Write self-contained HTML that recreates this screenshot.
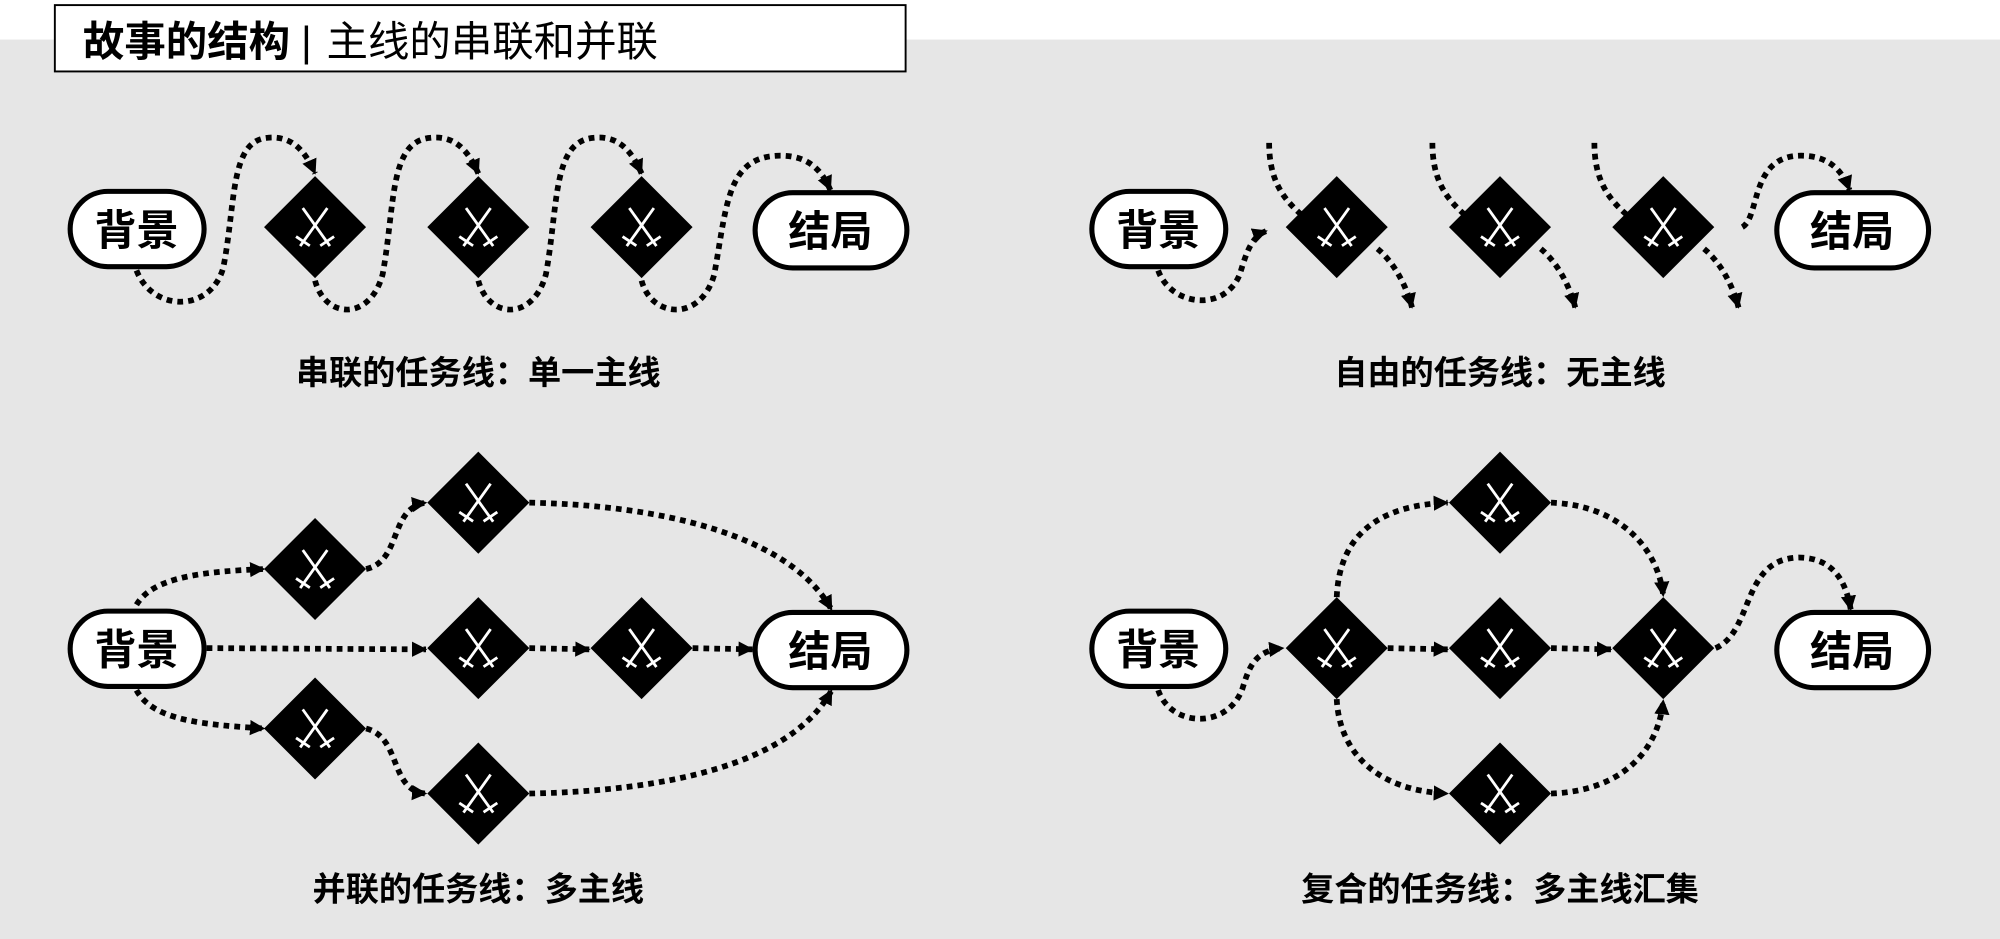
<!DOCTYPE html>
<html><head><meta charset="utf-8"><style>
html,body{margin:0;padding:0;background:#fff;}
svg{display:block;}
text{font-family:"Liberation Sans","Noto Sans CJK SC",sans-serif;}
</style></head><body>
<svg width="2000" height="939" viewBox="0 0 1568 736" preserveAspectRatio="none" xmlns="http://www.w3.org/2000/svg">
<defs>
<marker id="ar" markerUnits="userSpaceOnUse" markerWidth="14" markerHeight="14" refX="11" refY="6" orient="auto">
<path d="M0,0 L12,6 L0,12 Z" fill="#000"/>
</marker>
<g id="dm">
<path d="M0,-40 L40,0 L0,40 L-40,0 Z" fill="#000"/>
<g stroke="#fff" stroke-width="2.2" fill="none" stroke-linecap="square">
<line x1="-9" y1="-14" x2="11" y2="14"/>
<line x1="9" y1="-14" x2="-11" y2="14"/>
<line x1="-14" y1="8" x2="-5" y2="14"/>
<line x1="14" y1="8" x2="5" y2="14"/>
</g>
</g>
</defs>
<rect x="0" y="0" width="1568" height="736" fill="#fff"/>
<rect x="0" y="31" width="1568" height="705" fill="#e6e6e6"/>
<rect x="43" y="4" width="667" height="52" fill="#fff" stroke="#000" stroke-width="1.5"/>
<text x="65" y="44" font-size="32.5" font-weight="bold">故事的结构</text>
<text x="236" y="44" font-size="32.5">|</text>
<text x="256" y="44" font-size="32.5">主线的串联和并联</text>

<g fill="none" stroke="#000" stroke-width="4.5" stroke-dasharray="4.5 4">
<path d="M107,212 C120,245 165,245 175,210 C185,160 180,110 210,108 C230,106 240,120 247,136" marker-end="url(#ar)"/>
<path d="M247,220 C255,250 290,252 300,215 C310,160 305,110 338,108 C358,106 368,120 375,136" marker-end="url(#ar)"/>
<path d="M375,220 C383,250 418,252 428,215 C438,160 433,110 466,108 C486,106 496,120 503,136" marker-end="url(#ar)"/>
<path d="M503,220 C511,250 550,252 560,215 C570,160 570,122 612,122 C635,122 645,135 651,149" marker-end="url(#ar)"/>
<path d="M908,212 C918,240 960,245 972,215 C978,195 982,185 993,181" marker-end="url(#ar)"/>
<path d="M995,112 C995,140 1005,155 1020,168"/>
<path d="M1080,195 C1092,205 1102,222 1107,241" marker-end="url(#ar)"/>
<path d="M1123,112 C1123,140 1133,155 1148,168"/>
<path d="M1208,195 C1220,205 1230,222 1235,241" marker-end="url(#ar)"/>
<path d="M1250,112 C1250,140 1260,155 1275,168"/>
<path d="M1336,195 C1348,205 1358,222 1363,241" marker-end="url(#ar)"/>
<path d="M1366,178 C1380,170 1372,122 1412,122 C1435,122 1445,135 1450,149" marker-end="url(#ar)"/>
<path d="M107,474 C120,452 160,448 207,446" marker-end="url(#ar)"/>
<path d="M287,446 C315,440 305,398 334,394" marker-end="url(#ar)"/>
<path d="M415,394 C520,396 620,420 652,478" marker-end="url(#ar)"/>
<path d="M162,508 L334,509" marker-end="url(#ar)"/>
<path d="M415,508 L462,509" marker-end="url(#ar)"/>
<path d="M543,508 L590,509" marker-end="url(#ar)"/>
<path d="M107,541 C120,565 160,568 207,571" marker-end="url(#ar)"/>
<path d="M287,571 C315,578 305,620 334,622" marker-end="url(#ar)"/>
<path d="M415,622 C520,620 620,600 652,541" marker-end="url(#ar)"/>
<path d="M908,541 C918,570 962,572 974,540 C980,520 985,510 1006,508" marker-end="url(#ar)"/>
<path d="M1048,468 C1050,420 1080,396 1135,394" marker-end="url(#ar)"/>
<path d="M1088,508 L1135,509" marker-end="url(#ar)"/>
<path d="M1048,548 C1050,590 1080,620 1135,622" marker-end="url(#ar)"/>
<path d="M1216,394 C1270,396 1300,430 1304,467" marker-end="url(#ar)"/>
<path d="M1216,508 L1263,509" marker-end="url(#ar)"/>
<path d="M1216,622 C1270,620 1300,590 1304,549" marker-end="url(#ar)"/>
<path d="M1345,508 C1375,495 1365,438 1410,437 C1440,437 1448,460 1451,478" marker-end="url(#ar)"/>
</g>

<use href="#dm" x="247" y="178"/><use href="#dm" x="375" y="178"/><use href="#dm" x="503" y="178"/>
<use href="#dm" x="1048" y="178"/><use href="#dm" x="1176" y="178"/><use href="#dm" x="1304" y="178"/>
<use href="#dm" x="247" y="446"/><use href="#dm" x="375" y="394"/><use href="#dm" x="247" y="571"/>
<use href="#dm" x="375" y="508"/><use href="#dm" x="503" y="508"/><use href="#dm" x="375" y="622"/>
<use href="#dm" x="1048" y="508"/><use href="#dm" x="1176" y="394"/><use href="#dm" x="1176" y="508"/>
<use href="#dm" x="1176" y="622"/><use href="#dm" x="1304" y="508"/>

<g fill="#fff" stroke="#000" stroke-width="4">
<rect x="55" y="150" width="105" height="59" rx="29.5"/>
<rect x="592" y="151" width="119" height="59" rx="29.5"/>
<rect x="856" y="150" width="105" height="59" rx="29.5"/>
<rect x="1393" y="151" width="119" height="59" rx="29.5"/>
<rect x="55" y="479" width="105" height="59" rx="29.5"/>
<rect x="592" y="480" width="119" height="59" rx="29.5"/>
<rect x="856" y="479" width="105" height="59" rx="29.5"/>
<rect x="1393" y="480" width="119" height="59" rx="29.5"/>
</g>
<g font-size="33" font-weight="bold" text-anchor="middle">
<text x="107" y="192">背景</text><text x="651" y="193">结局</text>
<text x="908" y="192">背景</text><text x="1452" y="193">结局</text>
<text x="107" y="521">背景</text><text x="651" y="522">结局</text>
<text x="908" y="521">背景</text><text x="1452" y="522">结局</text>
</g>
<g font-size="26" font-weight="bold" text-anchor="middle">
<text x="375" y="301">串联的任务线：单一主线</text>
<text x="1176" y="301">自由的任务线：无主线</text>
<text x="375" y="706">并联的任务线：多主线</text>
<text x="1176" y="706">复合的任务线：多主线汇集</text>
</g>
</svg>
</body></html>
